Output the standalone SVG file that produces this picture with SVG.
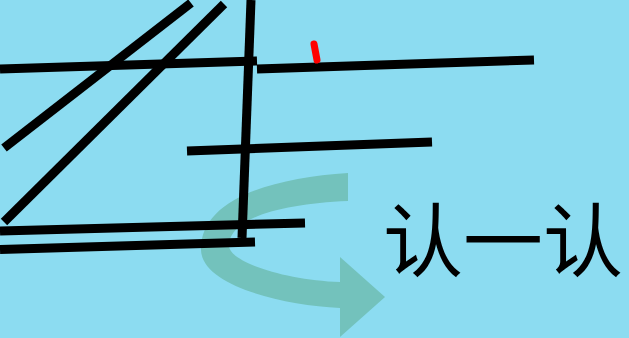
<svg xmlns="http://www.w3.org/2000/svg" width="629" height="338" viewBox="0 0 629 338">
<style>
.ln{stroke:#000;stroke-width:9;fill:none;stroke-linecap:butt}
.lbl{font-family:"Noto Sans CJK SC","Noto Sans",sans-serif;font-size:80px;fill:#000}
</style>
<rect width="629" height="338" fill="#8CDCF1"/>
<g id="arrow">
<path d="M348,173 C270,178 200,200 201,250 C202,285 280,305 340,308 L340,337 L385,297 L340,257 L340,282 C285,280 228,262 229,245 C230,218 280,204 348,201 Z" fill="#73C2BC"/>
</g>
<g id="connectors">
<line class="ln" x1="0" y1="69" x2="257" y2="61"/>
<line class="ln" x1="257" y1="69" x2="534" y2="60"/>
<line class="ln" x1="251" y1="0" x2="242" y2="238"/>
<line class="ln" x1="191" y1="3" x2="4" y2="148"/>
<line class="ln" x1="224" y1="4" x2="4" y2="222"/>
<line class="ln" x1="0" y1="231" x2="305" y2="223"/>
<line class="ln" x1="0" y1="249.5" x2="255" y2="242"/>
<line class="ln" x1="187" y1="151" x2="432" y2="142"/>
</g>
<g id="mark">
<line x1="314" y1="44" x2="317" y2="60" stroke="#FF0000" stroke-width="7" stroke-linecap="round"/>
</g>
<g id="label">
<text class="lbl" x="503" y="270" text-anchor="middle">认一认</text>
</g>
</svg>
